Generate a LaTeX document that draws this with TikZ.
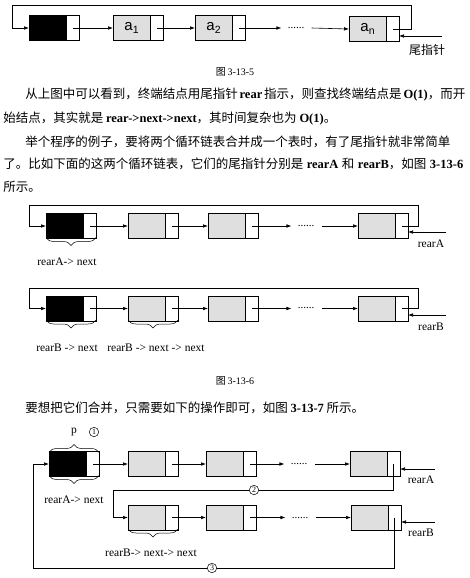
\documentclass[tikz,border=0pt]{standalone}
\usepackage{fontspec}
\setmainfont{Liberation Serif}
\newfontfamily\cjk{Noto Sans CJK SC}
\newfontfamily\lsans{Liberation Sans}
\usetikzlibrary{positioning,arrows.meta,decorations.pathreplacing}
\XeTeXlinebreaklocale "zh"
\XeTeXlinebreakskip=0pt plus 2pt minus 0.5pt
\newcommand{\tm}[1]{{\rmfamily\bfseries #1}}
\begin{document}
\begin{tikzpicture}[x=1pt, y=-1pt, line width=0.6pt,
    datafld/.style={draw, fill=gray!25, minimum width=37.5pt, minimum height=25pt,
      inner sep=0pt, outer sep=0pt, anchor=west, font=\lsans\fontsize{15}{15}\selectfont},
    ptrfld/.style={draw, fill=white, minimum width=12.5pt, minimum height=25pt,
      inner sep=0pt, outer sep=0pt},
    link/.style={-{Latex[length=5pt,width=3.6pt]}},
    brc/.style={decorate, decoration={brace, amplitude=8pt}, line width=0.5pt},
    lbl/.style={inner sep=0pt, font=\fontsize{11.5}{13}\selectfont},
    dotsnode/.style={inner sep=1pt, font=\fontsize{11}{11}\selectfont},
    cnum/.style={circle, draw, fill=white, inner sep=0pt, minimum size=9.5pt,
      line width=0.5pt, font=\fontsize{8}{8}\selectfont},
    ptext/.style={anchor=west, inner sep=0pt, font=\cjk\fontsize{12.5}{15}\selectfont},
    capt/.style={inner sep=0pt, font=\fontsize{10}{12}\selectfont}]
  \useasboundingbox (0,0) rectangle (470,578);

  % Figure 3-13-5
  \node[datafld, fill=black] (h1) at (29,28) {};
  \node[ptrfld, right=0pt of h1] (h1p) {};
  \node[datafld] (a1) at (113,28) {a\textsubscript{1}};
  \node[ptrfld, right=0pt of a1] (a1p) {};
  \node[datafld] (a2) at (195,28) {a\textsubscript{2}};
  \node[ptrfld, right=0pt of a2] (a2p) {};
  \node[dotsnode] (dots1) at (296,28) {......};
  \node[datafld] (an) at (349,29) {a\textsubscript{n}};
  \node[ptrfld, right=0pt of an] (anp) {};
  \draw[link] (h1p.center) -- (a1.west);
  \draw[link] (a1p.center) -- (a2.west);
  \draw[link] (a2p.center) -- ([xshift=-5pt]dots1.west);
  \draw[link] ([xshift=6pt]dots1.east) -- (an.west);
  \coordinate (r1) at (411,5);
  \coordinate (l1) at (12,5);
  \draw[link] (anp.center) -| (r1) -- (l1) |- (h1.west);
  \coordinate (t1) at (442,36);
  \draw[link] (t1) -- (t1 -| anp.east);
  \node[inner sep=0pt, font=\cjk\fontsize{12}{12}\selectfont] (tail1) at (427,50) {尾指针};
  \node[capt] (cap1) at (235,72) {{\cjk 图}\,3-13-5};

  % Text
  \node[ptext] (line1) at (25,95) {\makebox[438pt][s]{从上图中可以看到，终端结点用尾指针 \tm{rear} 指示，则查找终端结点是 \tm{O(1)}，而开}};
  \node[ptext] (line2) at (3,119) {始结点，其实就是 \tm{rear->next->next}，其时间复杂也为 \tm{O(1)}。};
  \node[ptext] (line3) at (25,142) {\makebox[438pt][s]{举个程序的例子，要将两个循环链表合并成一个表时，有了尾指针就非常简单}};
  \node[ptext] (line4) at (3,164) {\makebox[460pt][s]{了。比如下面的这两个循环链表，它们的尾指针分别是 \tm{rearA} 和 \tm{rearB}，如图 \tm{3-13-6}}};
  \node[ptext] (line5) at (3,187) {所示。};

  % Figure 3-13-6, list A
  \node[datafld, fill=black] (hA) at (46,226) {};
  \node[ptrfld, right=0pt of hA] (hAp) {};
  \node[datafld] (xA2) at (128,226) {};
  \node[ptrfld, right=0pt of xA2] (xA2p) {};
  \node[datafld] (xA3) at (208,226) {};
  \node[ptrfld, right=0pt of xA3] (xA3p) {};
  \node[dotsnode] (dotsA) at (306,226) {......};
  \node[datafld] (xAn) at (358,226) {};
  \node[ptrfld, right=0pt of xAn] (xAnp) {};
  \draw[link] (hAp.center) -- (xA2.west);
  \draw[link] (xA2p.center) -- (xA3.west);
  \draw[link] (xA3p.center) -- ([xshift=-5pt]dotsA.west);
  \draw[link] ([xshift=6pt]dotsA.east) -- (xAn.west);
  \coordinate (rA) at (418,205);
  \coordinate (lA) at (29,205);
  \draw[link] (xAnp.center) -| (rA) -- (lA) |- (hA.west);
  \coordinate (tA) at (446,232);
  \draw[link] (tA) -- (tA -| xAnp.east);
  \node[lbl] (rearA1) at (431,244) {rearA};
  \draw[brc] ([yshift=1pt]hAp.south east) -- ([yshift=1pt]hA.south west);
  \node[lbl] (nextA1) at (67,262) {rearA-> next};

  % Figure 3-13-6, list B
  \node[datafld, fill=black] (hB) at (46,308.5) {};
  \node[ptrfld, right=0pt of hB] (hBp) {};
  \node[datafld] (xB2) at (128,308.5) {};
  \node[ptrfld, right=0pt of xB2] (xB2p) {};
  \node[datafld] (xB3) at (208,308.5) {};
  \node[ptrfld, right=0pt of xB3] (xB3p) {};
  \node[dotsnode] (dotsB) at (306,308.5) {......};
  \node[datafld] (xBn) at (358,308.5) {};
  \node[ptrfld, right=0pt of xBn] (xBnp) {};
  \draw[link] (hBp.center) -- (xB2.west);
  \draw[link] (xB2p.center) -- (xB3.west);
  \draw[link] (xB3p.center) -- ([xshift=-5pt]dotsB.west);
  \draw[link] ([xshift=6pt]dotsB.east) -- (xBn.west);
  \coordinate (rB) at (418,288);
  \coordinate (lB) at (29,288);
  \draw[link] (xBnp.center) -| (rB) -- (lB) |- (hB.west);
  \coordinate (tB) at (446,315);
  \draw[link] (tB) -- (tB -| xBnp.east);
  \node[lbl] (rearB1) at (431,327) {rearB};
  \draw[brc] ([yshift=1pt]hBp.south east) -- ([yshift=1pt]hB.south west);
  \draw[brc] ([yshift=1pt]xB2p.south east) -- ([yshift=1pt]xB2.south west);
  \node[lbl] (nextB1) at (67,348) {rearB -> next};
  \node[lbl] (nextB2) at (156,348) {rearB -> next -> next};
  \node[capt] (cap2) at (235,381) {{\cjk 图}\,3-13-6};

  % Text
  \node[ptext] (line6) at (25,408) {要想把它们合并，只需要如下的操作即可，如图 \tm{3-13-7} 所示。};

  % Figure 3-13-7
  \node[datafld, fill=black] (hC) at (49,464) {};
  \node[ptrfld, right=0pt of hC] (hCp) {};
  \node[datafld] (yA2) at (128,464) {};
  \node[ptrfld, right=0pt of yA2] (yA2p) {};
  \node[datafld] (yA3) at (206,464) {};
  \node[ptrfld, right=0pt of yA3] (yA3p) {};
  \node[dotsnode] (dotsC) at (299,464) {......};
  \node[datafld] (yAn) at (350,464) {};
  \node[ptrfld, right=0pt of yAn] (yAnp) {};
  \draw[link] (hCp.center) -- (yA2.west);
  \draw[link] (yA2p.center) -- (yA3.west);
  \draw[link] (yA3p.center) -- ([xshift=-5pt]dotsC.west);
  \draw[link] ([xshift=6pt]dotsC.east) -- (yAn.west);
  \coordinate (tC) at (435,469);
  \draw[link] (tC) -- (tC -| yAnp.east);
  \node[lbl] (rearA2) at (421,480) {rearA};
  \draw[brc] ([yshift=-1pt]hC.north west) -- ([yshift=-1pt]hCp.north east);
  \node[lbl] (pnode) at (74,432) {p};
  \node[cnum] (c1) at (94,432) {1};
  \draw[brc] ([yshift=1pt]hCp.south east) -- ([yshift=1pt]hC.south west);
  \node[lbl] (nextA2) at (74,500) {rearA-> next};

  \node[datafld] (yB1) at (128,517.5) {};
  \node[ptrfld, right=0pt of yB1] (yB1p) {};
  \node[datafld] (yB2) at (206,517.5) {};
  \node[ptrfld, right=0pt of yB2] (yB2p) {};
  \node[dotsnode] (dotsD) at (300,517.5) {......};
  \node[datafld] (yBn) at (351,517.5) {};
  \node[ptrfld, right=0pt of yBn] (yBnp) {};
  \draw[link] (yB1p.center) -- (yB2.west);
  \draw[link] (yB2p.center) -- ([xshift=-5pt]dotsD.west);
  \draw[link] ([xshift=6pt]dotsD.east) -- (yBn.west);
  \coordinate (tD) at (435,522);
  \draw[link] (tD) -- (tD -| yBnp.east);
  \node[lbl] (rearB2) at (421,533) {rearB};
  \draw[brc] ([yshift=1pt]yB1p.south east) -- ([yshift=1pt]yB1.south west);
  \node[lbl] (nextB3) at (151,553) {rearB-> next-> next};

  % Step 2 and step 3 links
  \coordinate (m2) at (113,490);
  \draw[link] (yAnp.center) |- (m2) |- (yB1.west);
  \node[cnum] (c2) at (254,490) {2};
  \coordinate (m3) at (33,568);
  \draw[link] (yBnp.center) |- (m3) |- (hC.west);
  \node[cnum] (c3) at (212,568) {3};
\end{tikzpicture}
\end{document}
